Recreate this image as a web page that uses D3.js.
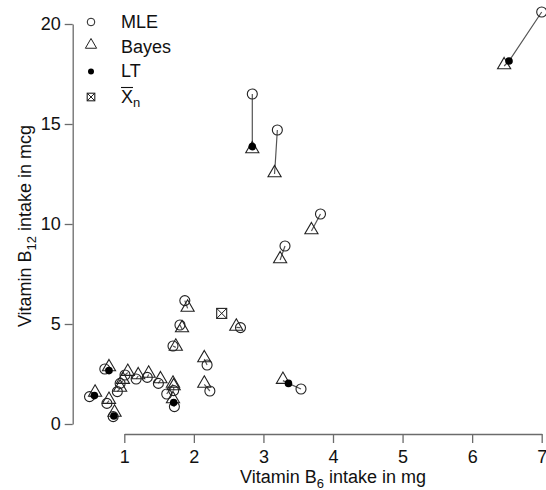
<!DOCTYPE html>
<html>
<head>
<meta charset="utf-8">
<script src="https://cdn.jsdelivr.net/npm/d3@7"></script>
<style>
  body { margin: 0; background: #fff; }
  svg { font-family: "Liberation Sans", Arial, sans-serif; }
</style>
</head>
<body>
<script>
// each subject: B6 (mg) and B12 (mcg) estimates
var mleX   = [7.00, 2.84, 3.20, 3.82, 3.31, 1.87, 1.80, 1.70, 2.67, 2.19, 2.23, 3.54, 0.72, 0.50, 0.75, 0.84, 0.90, 0.94, 1.01, 1.17, 1.33, 1.49, 1.61, 1.71, 1.72];
var mleY   = [20.6, 16.5, 14.7, 10.5, 8.9, 6.17, 4.95, 3.90, 4.82, 2.95, 1.65, 1.75, 2.75, 1.37, 1.03, 0.37, 1.62, 2.03, 2.45, 2.25, 2.33, 2.03, 1.50, 1.67, 0.87];
var bayesX = [6.46, 2.84, 3.16, 3.69, 3.24, 1.91, 1.83, 1.74, 2.61, 2.15, 2.15, 3.28, 0.78, 0.58, 0.78, 0.86, 0.94, 0.98, 1.05, 1.20, 1.35, 1.52, 1.70, 1.71, 1.70];
var bayesY = [17.9, 13.7, 12.5, 9.65, 8.2, 5.78, 4.75, 3.83, 4.83, 3.25, 1.98, 2.17, 2.80, 1.53, 1.17, 0.53, 1.78, 2.17, 2.57, 2.40, 2.48, 2.20, 1.98, 1.85, 1.20];
// LT only where it shows (null = hidden under the triangle)
var ltX    = [6.53, 2.84, null, null, null, null, null, null, null, null, null, 3.36, 0.78, 0.57, null, 0.85, null, null, null, null, null, null, null, null, 1.71];
var ltY    = [18.15, 13.87, null, null, null, null, null, null, null, null, null, 2.03, 2.67, 1.42, null, 0.40, null, null, null, null, null, null, null, null, 1.07];
var xbar   = [2.40, 5.53];

var xTicks = [1, 2, 3, 4, 5, 6, 7];
var yTicks = [0, 5, 10, 15, 20];

var width = 546, height = 490;

var svg = d3.select("body").append("svg")
    .attr("width", width)
    .attr("height", height);

var x = d3.scaleLinear().domain([1, 7]).range([124.3, 541.7]);
var y = d3.scaleLinear().domain([0, 20]).range([424, 24]);

var axisCol = "#6b6b6b";
var fs = "18px";

// axes
var gx = svg.append("g")
    .attr("transform", "translate(0,434)")
    .call(d3.axisBottom(x).tickValues(xTicks).tickSize(9).tickSizeOuter(0).tickPadding(7).tickFormat(d3.format("d")));

var gy = svg.append("g")
    .attr("transform", "translate(72.7,0)")
    .call(d3.axisLeft(y).tickValues(yTicks).tickSize(8).tickSizeOuter(0).tickPadding(4).tickFormat(d3.format("d")));

[gx, gy].forEach(function(g) {
    g.select(".domain").attr("stroke", axisCol).attr("stroke-width", 1.3);
    g.selectAll(".tick line").attr("stroke", axisCol).attr("stroke-width", 1.3);
    g.selectAll(".tick text").attr("fill", "#111").style("font-size", fs).style("font-family", "Liberation Sans, Arial, sans-serif");
});

// axis titles
var xt = svg.append("text")
    .attr("x", 333).attr("y", 483)
    .attr("text-anchor", "middle")
    .style("font-size", fs).attr("fill", "#111");
xt.append("tspan").text("Vitamin B");
xt.append("tspan").attr("dy", 5).style("font-size", "13px").text("6");
xt.append("tspan").attr("dy", -5).text(" intake in mg");

var yt = svg.append("text")
    .attr("transform", "translate(31,226) rotate(-90)")
    .attr("text-anchor", "middle")
    .style("font-size", fs).attr("fill", "#111");
yt.append("tspan").text("Vitamin B");
yt.append("tspan").attr("dy", 5).style("font-size", "13px").text("12");
yt.append("tspan").attr("dy", -5).text(" intake in mcg");

// connecting segments MLE -> LT -> Bayes
var idx = d3.range(mleX.length);
var line = d3.line().x(function(p) { return x(p[0]); }).y(function(p) { return y(p[1]); });

svg.append("g").selectAll("path")
    .data(idx)
    .enter()
    .append("path")
    .attr("d", function(i) {
        var pts = [[mleX[i], mleY[i]]];
        if (ltX[i] != null) pts.push([ltX[i], ltY[i]]);
        pts.push([bayesX[i], bayesY[i]]);
        return line(pts);
    })
    .attr("fill", "none")
    .attr("stroke", "#555")
    .attr("stroke-width", 1.2);

var symStroke = "#222";
var tri = d3.symbol().type(d3.symbolTriangle).size(75);

// Bayes triangles
svg.append("g").selectAll("path")
    .data(idx)
    .enter()
    .append("path")
    .attr("d", tri)
    .attr("transform", function(i) { return "translate(" + x(bayesX[i]) + "," + (y(bayesY[i]) - 1) + ")"; })
    .attr("fill", "none")
    .attr("stroke", symStroke)
    .attr("stroke-width", 1.1);

// MLE circles
svg.append("g").selectAll("circle")
    .data(idx)
    .enter()
    .append("circle")
    .attr("cx", function(i) { return x(mleX[i]); })
    .attr("cy", function(i) { return y(mleY[i]); })
    .attr("r", 5)
    .attr("fill", "none")
    .attr("stroke", symStroke)
    .attr("stroke-width", 1.1);

// LT dots
svg.append("g").selectAll("circle")
    .data(idx.filter(function(i) { return ltX[i] != null; }))
    .enter()
    .append("circle")
    .attr("cx", function(i) { return x(ltX[i]); })
    .attr("cy", function(i) { return y(ltY[i]); })
    .attr("r", 3.8)
    .attr("fill", "#000");

// X-bar box
function boxX(g, cx, cy, s) {
    g.append("rect").attr("x", cx - s).attr("y", cy - s).attr("width", 2 * s).attr("height", 2 * s)
        .attr("fill", "none").attr("stroke", symStroke).attr("stroke-width", 1.1);
    g.append("path").attr("d", "M" + (cx - s) + "," + (cy - s) + "L" + (cx + s) + "," + (cy + s) +
        "M" + (cx - s) + "," + (cy + s) + "L" + (cx + s) + "," + (cy - s))
        .attr("stroke", symStroke).attr("stroke-width", 1);
}
boxX(svg.append("g"), x(xbar[0]), y(xbar[1]), 5);

// legend
var leg = svg.append("g");
var lx = 91, ltxt = 121;
leg.append("circle").attr("cx", lx).attr("cy", 22).attr("r", 3.8)
    .attr("fill", "none").attr("stroke", symStroke).attr("stroke-width", 1);
leg.append("path").attr("d", d3.symbol().type(d3.symbolTriangle).size(55))
    .attr("transform", "translate(" + lx + ",45)")
    .attr("fill", "none").attr("stroke", symStroke).attr("stroke-width", 1);
leg.append("circle").attr("cx", lx).attr("cy", 71.5).attr("r", 3).attr("fill", "#000");
boxX(leg, lx, 97, 3.8);

var legText = ["MLE", "Bayes", "LT"];
leg.selectAll("text.lab")
    .data(legText)
    .enter()
    .append("text")
    .attr("class", "lab")
    .attr("x", ltxt)
    .attr("y", function(d, i) { return 28 + i * 24.5; })
    .style("font-size", fs).attr("fill", "#111")
    .text(function(d) { return d; });

var xn = leg.append("text").attr("x", ltxt).attr("y", 103)
    .style("font-size", fs).attr("fill", "#111");
xn.append("tspan").text("X");
xn.append("tspan").attr("dy", 4).style("font-size", "13px").text("n");
leg.append("line").attr("x1", ltxt).attr("x2", ltxt + 12).attr("y1", 87.5).attr("y2", 87.5)
    .attr("stroke", "#111").attr("stroke-width", 1.1);
</script>
</body>
</html>
